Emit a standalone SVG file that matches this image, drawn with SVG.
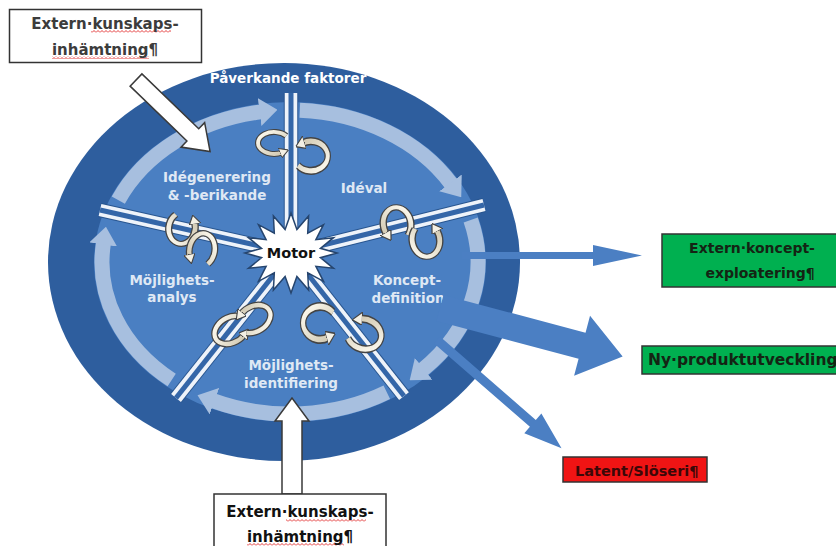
<svg xmlns="http://www.w3.org/2000/svg" xmlns:xlink="http://www.w3.org/1999/xlink" width="836" height="546" viewBox="0 0 836 546">
  <style>
    .label { font-family: "DejaVu Sans", "Liberation Sans", sans-serif; font-weight: bold; font-size: 13.5px; fill: #dfe8f4; text-anchor: middle; }
    .boxtext { font-family: "DejaVu Sans", "Liberation Sans", sans-serif; font-weight: bold; font-size: 15px; }
    .box { fill: #ffffff; stroke: #333333; stroke-width: 1.5; }
    .inarrow { fill: #ffffff; stroke: #3a3a3a; stroke-width: 1.5; stroke-linejoin: miter; }
    .outarrow { fill: #4b7fc3; }
    .band { fill: none; stroke: #a7bfdf; stroke-width: 15; marker-end: url(#bandHead); }
    .spokeEdge { stroke: #28558f; stroke-width: 14.5; }
    .spokeWhite { stroke: #eef3fa; stroke-width: 12.5; }
    .spokeCore { stroke: #3466a8; stroke-width: 5; }
  </style>
  <defs>
    <marker id="bandHead" markerUnits="userSpaceOnUse" markerWidth="18" markerHeight="28" viewBox="0 0 18 28" refX="1" refY="14" orient="auto">
      <path d="M0,0 L18,14 L0,28 z" fill="#a7bfdf"/>
    </marker>
    <marker id="loopHead" markerUnits="userSpaceOnUse" markerWidth="9" markerHeight="10" viewBox="0 0 9 10" refX="2" refY="5" orient="auto">
      <path d="M0,0 L9,5 L0,10 z" fill="#f4f0e4" stroke="#444444" stroke-width="1"/>
    </marker>
    <linearGradient id="ribbon" x1="0" y1="0" x2="1" y2="1">
      <stop offset="0" stop-color="#fffcf2"/>
      <stop offset="1" stop-color="#cfc6ae"/>
    </linearGradient>
    <!-- one twisted loop ring; instances are placed and turned per spoke -->
    <g id="loop">
      <path d="M 12.3,-7.1 A 16 11 0 1 0 8,9.5" fill="none" stroke="#444444" stroke-width="6"/>
      <path d="M 12.3,-7.1 A 16 11 0 1 0 8,9.5" fill="none" stroke="url(#ribbon)" stroke-width="3.8" marker-end="url(#loopHead)"/>
    </g>
    <pattern id="wave" width="4" height="3" patternUnits="userSpaceOnUse">
      <path d="M0,2.5 L2,0.5 L4,2.5" fill="none" stroke="#e02424" stroke-width="0.9"/>
    </pattern>
  </defs>

  <rect x="0" y="0" width="836" height="546" fill="#ffffff"/>

  <!-- wheel body -->
  <g id="wheel">
    <ellipse cx="284" cy="262" rx="236" ry="199" fill="#2e5e9e"/>
    <ellipse cx="290" cy="262" rx="196" ry="160" fill="#4a7fc2"/>
    <text class="label" x="288" y="83" style="fill:#ffffff">Påverkande faktorer</text>
  </g>

  <!-- clockwise ring arrows between the spokes -->
  <g id="ring">
    <path class="band" d="M 118.3,200.2 A 188 152 0 0 1 260.6,111.9"/>
    <path class="band" d="M 299.8,110.2 A 188 152 0 0 1 451.1,183.7"/>
    <path class="band" d="M 470.7,220.1 A 188 152 0 0 1 422.9,369.5"/>
    <path class="band" d="M 386.8,392.3 A 188 152 0 0 1 213.5,400.9"/>
    <path class="band" d="M 171.7,380.1 A 188 152 0 0 1 103.4,243.5"/>
  </g>

  <!-- phase labels -->
  <g id="phase-idegenerering">
    <text class="label" x="217" y="182">Idégenerering</text>
    <text class="label" x="217" y="200">&amp; -berikande</text>
  </g>
  <g id="phase-ideval">
    <text class="label" x="364" y="193">Idéval</text>
  </g>
  <g id="phase-mojlighetsanalys">
    <text class="label" x="172" y="285">Möjlighets-</text>
    <text class="label" x="172" y="302">analys</text>
  </g>
  <g id="phase-konceptdefinition">
    <text class="label" x="407" y="285">Koncept-</text>
    <text class="label" x="408" y="303">definition</text>
  </g>
  <g id="phase-mojlighetsidentifiering">
    <text class="label" x="291" y="370">Möjlighets-</text>
    <text class="label" x="291" y="388">identifiering</text>
  </g>

  <!-- spokes from the motor -->
  <g id="spokes" stroke-linecap="butt">
    <g class="spokeEdge">
      <line x1="291" y1="253" x2="291" y2="93"/>
      <line x1="291" y1="253" x2="484" y2="205"/>
      <line x1="291" y1="253" x2="404" y2="396"/>
      <line x1="291" y1="253" x2="176" y2="398"/>
      <line x1="291" y1="253" x2="100" y2="210"/>
    </g>
    <g class="spokeWhite">
      <line x1="291" y1="253" x2="291" y2="93"/>
      <line x1="291" y1="253" x2="484" y2="205"/>
      <line x1="291" y1="253" x2="404" y2="396"/>
      <line x1="291" y1="253" x2="176" y2="398"/>
      <line x1="291" y1="253" x2="100" y2="210"/>
    </g>
    <g class="spokeCore">
      <line x1="291" y1="253" x2="291" y2="93"/>
      <line x1="291" y1="253" x2="484" y2="205"/>
      <line x1="291" y1="253" x2="404" y2="396"/>
      <line x1="291" y1="253" x2="176" y2="398"/>
      <line x1="291" y1="253" x2="100" y2="210"/>
    </g>
  </g>

  <!-- twist loops on each spoke -->
  <g id="loops">
    <use xlink:href="#loop" href="#loop" transform="translate(274,143)"/>
    <use xlink:href="#loop" href="#loop" transform="translate(311,156) rotate(180) scale(1.05,1.35)"/>
    <use xlink:href="#loop" href="#loop" transform="translate(397,224) rotate(80) scale(1.05,1.25)"/>
    <use xlink:href="#loop" href="#loop" transform="translate(426,240) rotate(-100) scale(1.05,1.25)"/>
    <use xlink:href="#loop" href="#loop" transform="translate(182,228) rotate(-80) scale(1.0,1.2)"/>
    <use xlink:href="#loop" href="#loop" transform="translate(202,250) rotate(100) scale(1.05,1.15)"/>
    <use xlink:href="#loop" href="#loop" transform="translate(231,330) rotate(-30) scale(1.1,1.15)"/>
    <use xlink:href="#loop" href="#loop" transform="translate(254,319) rotate(150) scale(1.1,1.15)"/>
    <use xlink:href="#loop" href="#loop" transform="translate(320,323) scale(1.06,1.5)"/>
    <use xlink:href="#loop" href="#loop" transform="translate(364,334) rotate(200) scale(1.1,1.35)"/>
  </g>

  <!-- motor -->
  <g id="motor">
    <polygon points="337,253 320.4,257.7 333.5,268.3 315.9,266.3 323.5,281.3 307.7,272.9 308.6,290 296.9,276.5 291,293 285.1,276.5 273.4,290 274.3,272.9 258.5,281.3 266.1,266.3 248.5,268.3 261.6,257.7 245,253 261.6,248.3 248.5,237.7 266.1,239.7 258.5,224.7 274.3,233.1 273.4,216 285.1,229.5 291,213 296.9,229.5 308.6,216 307.7,233.1 323.5,224.7 315.9,239.7 333.5,237.7 320.4,248.3" fill="#ffffff" stroke="#26456e" stroke-width="1.5" stroke-linejoin="miter"/>
    <text x="291" y="258" font-family="DejaVu Sans, Liberation Sans, sans-serif" font-weight="bold" font-size="14.5" fill="#111111" text-anchor="middle">Motor</text>
  </g>

  <!-- outgoing flows and incoming knowledge -->
  <g id="connectors">
    <polygon class="outarrow" points="462,252 593,252 593,245 642,255.5 593,266 593,259 462,259"/>
    <polygon class="outarrow" transform="translate(440,308) rotate(14.9)" points="0,-13.5 147,-13.5 147,-31 189,0 147,31 147,13.5 0,13.5"/>
    <polygon class="outarrow" transform="translate(437,340) rotate(41)" points="0,-4.5 127,-4.5 127,-13 165,0 127,13 127,4.5 0,4.5"/>
    <polygon class="inarrow" transform="translate(136,80) rotate(44)" points="0,-8.5 79,-8.5 79,-17 103,0 79,17 79,8.5 0,8.5"/>
    <polygon class="inarrow" points="282,494 282,421 275,421 292,398 309,421 302,421 302,494"/>
  </g>

  <!-- source boxes -->
  <g id="box-extern-top">
    <rect class="box" x="9.5" y="9.5" width="192" height="53"/>
    <rect x="91" y="30" width="80" height="3" fill="url(#wave)"/>
    <rect x="52" y="56" width="97" height="3" fill="url(#wave)"/>
    <text class="boxtext" x="105" y="29" fill="#3c3c3c" text-anchor="middle">Extern·kunskaps-</text>
    <text class="boxtext" x="105" y="55" fill="#3c3c3c" text-anchor="middle">inhämtning¶</text>
  </g>
  <g id="box-extern-bottom">
    <rect class="box" x="214" y="494" width="172" height="58"/>
    <rect x="286" y="519" width="80" height="3" fill="url(#wave)"/>
    <rect x="247" y="543" width="97" height="3" fill="url(#wave)"/>
    <text class="boxtext" x="300" y="517" fill="#111111" text-anchor="middle">Extern·kunskaps-</text>
    <text class="boxtext" x="300" y="542" fill="#111111" text-anchor="middle">inhämtning¶</text>
  </g>

  <!-- outcome boxes -->
  <g id="box-koncept">
    <rect x="662" y="234" width="180" height="53" fill="#00b050" stroke="#333333" stroke-width="1.5"/>
    <text class="boxtext" x="752" y="253" style="font-size:14px" fill="#142414" text-anchor="middle">Extern·koncept-</text>
    <text class="boxtext" x="760" y="278" style="font-size:14px" fill="#142414" text-anchor="middle">exploatering¶</text>
  </g>
  <g id="box-nyprodukt">
    <rect x="642" y="346" width="200" height="28" fill="#00b050" stroke="#333333" stroke-width="1.5"/>
    <text class="boxtext" x="648" y="365" style="font-size:15.5px" fill="#142414">Ny·produktutveckling</text>
  </g>
  <g id="box-latent">
    <rect x="563" y="457" width="144" height="25" fill="#f01414" stroke="#333333" stroke-width="1.5"/>
    <text class="boxtext" x="575" y="476" style="font-size:14.5px" fill="#3b0808">Latent/Slöseri¶</text>
  </g>
</svg>
